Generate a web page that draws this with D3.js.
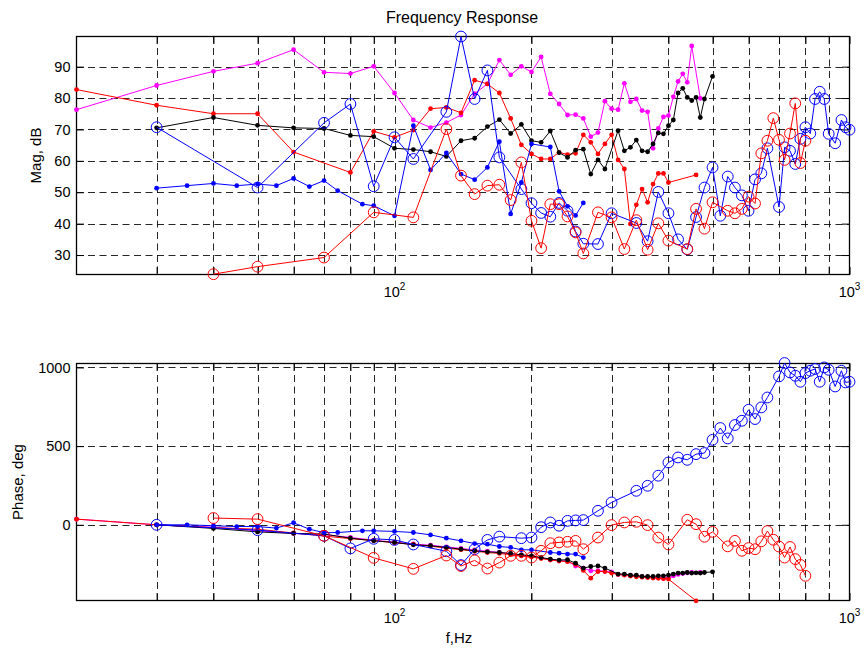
<!DOCTYPE html>
<html><head><meta charset="utf-8">
<script src="https://cdn.jsdelivr.net/npm/d3@7"></script>
<style>
body{margin:0;background:#fff}
svg{display:block}
text{font-family:"Liberation Sans",Arial,Helvetica,sans-serif;fill:#000}
</style>
</head><body>
<svg id="c" width="865" height="652"></svg>
<script>
// ---------- data ----------
const magentaF = [20,30,40,50,60,70,80,90,100,110,120,130,140,150,160,170,180,190,200,210,220,230,240,250,260,270,280,290,300,310,320,330,340,350,360,370,380,390,400,410,420,430,440,450,470];
const magentaMag = [76.3,84,88.5,91.1,95.4,88.2,87.8,90.1,81.6,73.0,70.6,72.2,74.6,81.4,84.5,92.1,87.4,90.1,88.3,93.1,81.3,78.1,74.6,74.7,73.5,67.7,69.0,79.0,76.6,76.3,84.7,78.8,79.7,76.0,75.6,64.0,70.3,74.0,74.4,80.4,85.3,87.7,85.0,96.6,79.9];
const magentaPh = [36,0,-15,-38,-55,-62,-80,-98,-110,-122,-130,-140,-150,-160,-168,-175,-184,-192,-200,-210,-220,-228,-230,-262,-275,-292,-292,-295,-300,-315,-318,-322,-325,-330,-333,-335,-336,-338,-340,-325,-315,-310,-305,-303,-303];

const redDotF = [20,30,40,50,60,80,90,100,110,120,130,140,150,160,170,180,190,200,210,220,230,240,250,260,270,280,290,300,310,320,330,340,350,360,370,380,390,400,460];
const redDotMag = [82.7,77.7,75.0,75.0,62.8,56.3,69.4,67.5,69.8,76.6,77.0,75.3,85.7,84.5,81.6,73.5,65.1,62.2,60.6,60.6,62.7,62.0,62.4,68.3,65.9,62.2,65.4,68.3,60.3,57.4,39.9,46.0,51.0,46.8,52.6,56.0,56.0,53.1,55.5];
const redDotPh = [36,0,-18,-28,-52,-88,-100,-114,-125,-136,-148,-158,-168,-176,-182,-190,-198,-205,-214,-224,-230,-234,-252,-290,-339,-297,-297,-307,-315,-320,-326,-330,-333,-335,-338,-340,-342,-345,-483];

const blackF = [30,40,50,60,70,80,90,100,110,120,130,140,150,160,170,180,190,200,210,220,230,240,250,260,270,280,290,310,320,330,340,350,360,370,380,390,400,410,420,430,440,450,460,470,480,500];
const blackMag = [70.5,73.8,71.3,70.5,70.3,68.1,67.7,64.0,63.6,62.9,61.4,66.4,67.2,70.9,73.1,68.7,71.6,66.4,65.9,69.5,62.6,61.1,63.4,63.7,55.8,60.3,57.4,69.6,63.2,64.3,66.6,63.2,62.9,65.4,68.9,68.6,71.2,73.0,81.6,83.1,80.2,79.2,80.2,73.8,79.7,86.9];
const blackPh = [0,-23,-45,-55,-59,-85,-102,-112,-127,-133,-144,-155,-165,-172,-176,-182,-191,-197,-208,-218,-224,-222,-244,-275,-265,-261,-275,-313,-313,-320,-320,-328,-328,-328,-324,-324,-320,-313,-307,-307,-303,-307,-305,-307,-303,-299];

const blueDotF = [30,35,40,45,50,55,60,65,70,75,85,90,100,110,120,130,140,150,160,170,180,190,200,220,230,240,250,260];
const blueDotMag = [51.3,52.1,52.8,52.1,52.6,52.1,54.4,51.8,53.7,50.5,46.2,45.7,42.5,71.2,57.1,62.5,55.8,54.0,57.9,66.1,43.1,53.1,65.4,64.4,50.3,45.5,42.6,46.6];
const blueDotPh = [0,0,-6,-11,-11,-21,13,-28,-50,-49,-38,-38,-42,-49,-64,-85,-102,-119,-123,-138,-144,-159,-159,-176,-180,-186,-186,-208];

const blueCircF = [30,50,70,80,90,100,110,130,140,150,160,170,190,200,210,220,230,240,250,260,280,300,340,360,380,400,420,440,460,480,500,520,540,560,580,600,620,640,660,700,720,740,760,780,800,820,840,860,880,900,930,960,980,1000];
const blueCircMag = [70.7,51.5,72.1,78.1,51.9,67.5,60.6,75.6,99.6,79.7,88.8,61.1,51.0,46.5,43.4,42.2,46.6,44.1,37.5,33.6,33.5,43.3,40.2,34.4,50.1,43.3,35.0,31.8,42.1,51.5,57.9,42.5,55.0,51.5,49.0,44.1,54.1,56.0,64.0,45.3,64.3,63.2,59.0,67.0,70.7,68.7,79.7,82.0,79.7,68.6,65.6,73.0,70.7,69.9];
const blueCircPh = [0,-34,-70,-150,-89,-96,-125,-168,-256,-155,-96,-75,-85,-81,-15,15,-6,25,28,30,89,142,216,248,312,396,428,413,449,456,540,615,549,634,661,731,672,746,809,943,1028,968,947,909,964,979,990,909,1000,985,879,979,905,909];

const redCircF = [40,50,70,90,110,130,140,150,160,170,180,190,200,210,220,230,240,250,260,280,300,320,340,360,380,400,440,460,480,500,540,560,580,600,620,640,660,680,700,720,740,760,780,800];
const redCircMag = [23.9,26.3,29.2,43.6,42.0,70.1,55.3,49.4,52.1,52.4,47.5,59.5,40.9,32.2,46.2,46.2,42.3,37.2,30.5,43.6,42.0,31.9,41.1,31.7,40.1,34.6,31.9,44.7,38.4,46.8,44.1,43.3,44.7,48.6,46.4,62.4,66.4,73.6,66.7,60.3,68.7,78.3,59.3,66.4];
const redCircPh = [43,36,-70,-210,-280,-195,-262,-226,-278,-240,-197,-197,-208,-165,-117,-112,-108,-102,-155,-81,-2,15,19,-2,-81,-125,32,4,-76,-45,-137,-102,-165,-148,-155,-105,-40,-95,-138,-208,-141,-218,-255,-324];

const xGridTicks = [30,40,50,60,70,80,90,100,200,300,400,500,600,700,800,900];
const xLabelTicks = [100,1000];
const magTicks = [30,40,50,60,70,80,90];
const phTicks = [0,500,1000];
const magDomain = [23.8,99.6];
const phDomain = [-481,1025];

// ---------- series ----------
const series = [
  {f:magentaF, mag:magentaMag, ph:magentaPh, color:"#ff00ff", marker:"dot"},
  {f:redDotF, mag:redDotMag, ph:redDotPh, color:"#ff0000", marker:"dot"},
  {f:blackF, mag:blackMag, ph:blackPh, color:"#000000", marker:"dot"},
  {f:blueDotF, mag:blueDotMag, ph:blueDotPh, color:"#0000ff", marker:"dot"},
  {f:blueCircF, mag:blueCircMag, ph:blueCircPh, color:"#0000ff", marker:"circle"},
  {f:redCircF, mag:redCircMag, ph:redCircPh, color:"#ff0000", marker:"circle"}
];

const svg = d3.select("#c");
const L = 76.5, R = 849.5;
const x = d3.scaleLog().domain([20,1000]).range([L,R]);
const TICK = 7.5;

function panel(top, bottom, domain, yTicks, key, ylabel, ylabelX, xlabBase) {
  const y = d3.scaleLinear().domain(domain).range([bottom, top]);
  const g = svg.append("g");
  // grid
  const grid = g.append("g").attr("stroke","#000").attr("stroke-width",0.85).attr("stroke-dasharray","7,4.5").attr("fill","none");
  xGridTicks.forEach(v => {
    grid.append("line").attr("x1",Math.round(x(v))+0.5).attr("x2",Math.round(x(v))+0.5).attr("y1",top).attr("y2",bottom);
  });
  yTicks.forEach(v => {
    grid.append("line").attr("x1",L).attr("x2",R).attr("y1",Math.round(y(v))+0.5).attr("y2",Math.round(y(v))+0.5);
  });
  // axes ticks
  const ax = g.append("g");
  const left = ax.append("g").attr("transform",`translate(${L},0)`)
    .call(d3.axisLeft(y).tickValues(yTicks).tickSize(-TICK).tickPadding(6).tickFormat(d3.format("d")));
  left.selectAll("text").attr("font-size","14.5px").attr("font-family","Liberation Sans, Arial, sans-serif");
  ax.append("g").attr("transform",`translate(${R},0)`)
    .call(d3.axisRight(y).tickValues(yTicks).tickSize(-TICK).tickFormat(""));
  ax.append("g").attr("transform",`translate(0,${bottom})`)
    .call(d3.axisBottom(x).tickValues(xGridTicks.concat([1000])).tickSize(-TICK).tickFormat(""));
  ax.append("g").attr("transform",`translate(0,${top})`)
    .call(d3.axisTop(x).tickValues(xGridTicks.concat([1000])).tickSize(-TICK).tickFormat(""));
  ax.selectAll(".domain").remove();
  ax.selectAll(".tick line").attr("stroke","#000").attr("stroke-width",1);
  // box
  g.append("rect").attr("x",L).attr("y",top).attr("width",R-L).attr("height",bottom-top)
    .attr("fill","none").attr("stroke","#000").attr("stroke-width",1.3);
  // x labels 10^n
  xLabelTicks.forEach(v => {
    const t = g.append("text").attr("x",x(v)).attr("y",xlabBase).attr("text-anchor","middle").attr("font-size","14.5px");
    t.append("tspan").text("10");
    t.append("tspan").attr("dy",-7).attr("font-size","10px").text(String(Math.round(Math.log10(v))));
  });
  // y label
  g.append("text").attr("transform",`translate(${ylabelX},${(top+bottom)/2}) rotate(-90)`)
    .attr("text-anchor","middle").attr("font-size","15px").text(ylabel);
  // data
  const line = d3.line().x(d=>x(d[0])).y(d=>y(d[1]));
  series.forEach(s => {
    const pts = s.f.map((f,i)=>[f, s[key][i]]);
    const sg = g.append("g");
    sg.append("path").attr("d",line(pts)).attr("fill","none").attr("stroke",s.color).attr("stroke-width",1);
    sg.selectAll("circle").data(pts).join("circle")
      .attr("cx",d=>x(d[0])).attr("cy",d=>y(d[1]))
      .attr("r", s.marker==="dot" ? 2.4 : 5.4)
      .attr("fill", s.marker==="dot" ? s.color : "none")
      .attr("stroke", s.color).attr("stroke-width", s.marker==="dot" ? 0 : 1);
  });
  return y;
}

panel(36.5, 274.5, magDomain, magTicks, "mag", "Mag, dB", 41, 297);
panel(363.5, 600.5, phDomain, phTicks, "ph", "Phase, deg", 22.5, 623);

svg.append("text").attr("x",462).attr("y",23).attr("text-anchor","middle").attr("font-size","16px").text("Frequency Response");
svg.append("text").attr("x",459).attr("y",643).attr("text-anchor","middle").attr("font-size","15px").text("f,Hz");
</script>
</body></html>
